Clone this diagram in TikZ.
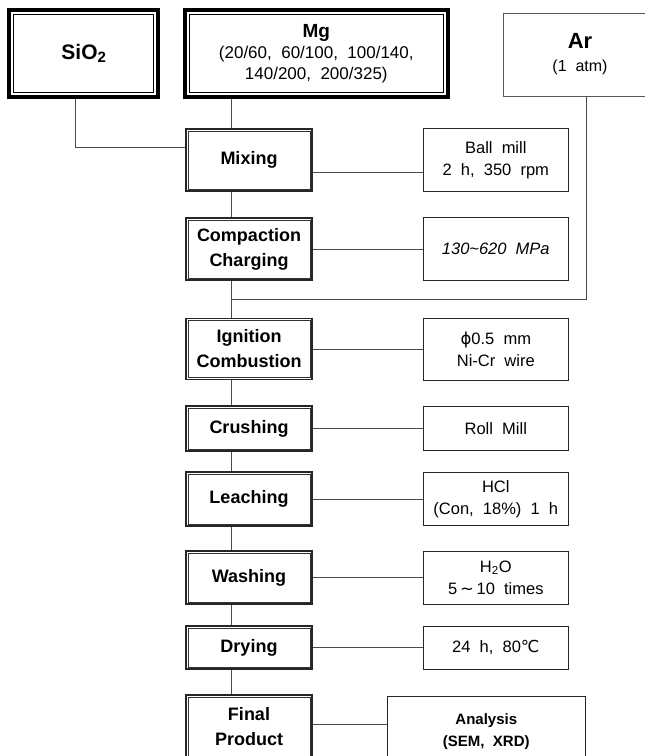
\documentclass[tikz,border=0pt]{standalone}
\usepackage{fontspec}
\setmainfont{Liberation Sans}[WordSpace=2]
\newfontfamily\dejavu{DejaVu Sans}
\usepackage{tikz}
\usetikzlibrary{positioning,calc}

\begin{document}
\begin{tikzpicture}[
    x=1pt, y=-1pt,
    inbox/.style={draw=black, line width=4pt, align=center, inner sep=0pt, minimum height=87pt, font=\fontsize{17}{21}\selectfont},
    stepbox/.style={draw=black!85, line width=1.8pt, minimum width=126pt, minimum height=#1, inner sep=0pt, align=center, font=\bfseries\fontsize{18}{25}\selectfont},
    stepbox/.default=62pt,
    condbox/.style={draw=black!85, line width=0.8pt, minimum width=145pt, minimum height=#1, inner sep=0pt, align=center, font=\fontsize{16.5}{22}\selectfont},
    condbox/.default=62pt,
    link/.style={draw=black!70, line width=0.7pt}
]
    \useasboundingbox (0,0) rectangle (645,756);
    \clip (0,0) rectangle (645,756);

    % Raw materials
    \node[inbox, minimum width=149pt] (sio) at (83.7,53.5) {\bfseries\fontsize{21}{21}\selectfont SiO{\fontsize{15}{15}\selectfont\raisebox{-3pt}{2}}};
    \node[inbox, minimum width=263pt] (mg) at (316.3,53.5) {{\bfseries\fontsize{19}{19}\selectfont Mg}\\(20/60, 60/100, 100/140,\\140/200, 200/325)};
    \node[draw=black!65, line width=0.7pt, minimum width=154pt, minimum height=83pt, inner sep=0pt, align=center, font=\fontsize{16}{23}\selectfont] (ar) at (580,54.5) {{\bfseries\fontsize{22}{22}\selectfont Ar}\\(1 atm)};

    % Process chain
    \node[stepbox=62pt] (mix) at (249,160) {Mixing};
    \node[stepbox=62pt] (comp) at (249,249) {Compaction\\Charging};
    \node[stepbox=61pt] (ign) at (249,349) {Ignition\\Combustion};
    \node[stepbox=45pt] (crush) at (249,428.5) {Crushing};
    \node[stepbox=54pt] (leach) at (249,499) {Leaching};
    \node[stepbox=53pt] (wash) at (249,577.5) {Washing};
    \node[stepbox=43pt] (dry) at (249,647.5) {Drying};
    \node[stepbox=64pt] (final) at (249,727) {Final\\Product};

    % Conditions
    \node[condbox=63pt, right=110pt of mix] (ball) {Ball mill\\2 h, 350 rpm};
    \node[condbox=63pt, right=110pt of comp] (press) {\itshape 130\textasciitilde 620 MPa};
    \node[condbox=62pt, right=110pt of ign] (wire) {{\dejavu ϕ}0.5 mm\\Ni-Cr wire};
    \node[condbox=44pt, right=110pt of crush] (roll) {Roll Mill};
    \node[condbox=53pt, right=110pt of leach] (hcl) {HCl\\(Con, 18\%) 1 h};
    \node[condbox=53pt, right=110pt of wash] (water) {H\textsubscript{2}O\\5{\dejavu\,∼\,}10 times};
    \node[condbox=43pt, right=110pt of dry] (heat) {24 h, 80{\dejavu ℃}};
    \node[condbox=72pt, minimum width=198pt, right=74pt of final, yshift=-5pt, font=\bfseries\fontsize{15}{22}\selectfont] (ana) {Analysis\\(SEM, XRD)};

    % Double frames
    \foreach \n in {sio,mg}
        \draw[black, line width=1pt] ([shift={(6.5pt,-6.5pt)}]\n.north west) rectangle ([shift={(-6.5pt,6.5pt)}]\n.south east);
    \foreach \n in {mix,comp,ign,crush,leach,wash,dry,final}
        \draw[black!80, line width=0.6pt] ([shift={(3.1pt,-3.1pt)}]\n.north west) rectangle ([shift={(-3.1pt,3.1pt)}]\n.south east);

    % Connections
    \coordinate (spine) at (231,0);
    \draw[link] ([xshift=-8.7pt]sio.south) |- ([yshift=13pt]mix.west);
    \draw[link] (mg.south -| spine) -- (mix.north -| spine);
    \foreach \a/\b in {mix/comp,comp/ign,ign/crush,crush/leach,leach/wash,wash/dry,dry/final}
        \draw[link] (\a.south -| spine) -- (\b.north -| spine);
    \draw[link] ([xshift=6pt]ar.south) |- ($(comp.south -| spine)!0.5!(ign.north -| spine)$);

    \draw[link] ([yshift=-12pt]mix.east) -- ([yshift=-12pt]mix.east -| ball.west);
    \draw[link] (comp) -- (press);
    \draw[link] (ign) -- (wire);
    \draw[link] (crush) -- (roll);
    \draw[link] (leach) -- (hcl);
    \draw[link] (wash) -- (water);
    \draw[link] (dry) -- (heat);
    \draw[link] ([yshift=3pt]final.east) -- ([yshift=3pt]final.east -| ana.west);
\end{tikzpicture}
\end{document}
